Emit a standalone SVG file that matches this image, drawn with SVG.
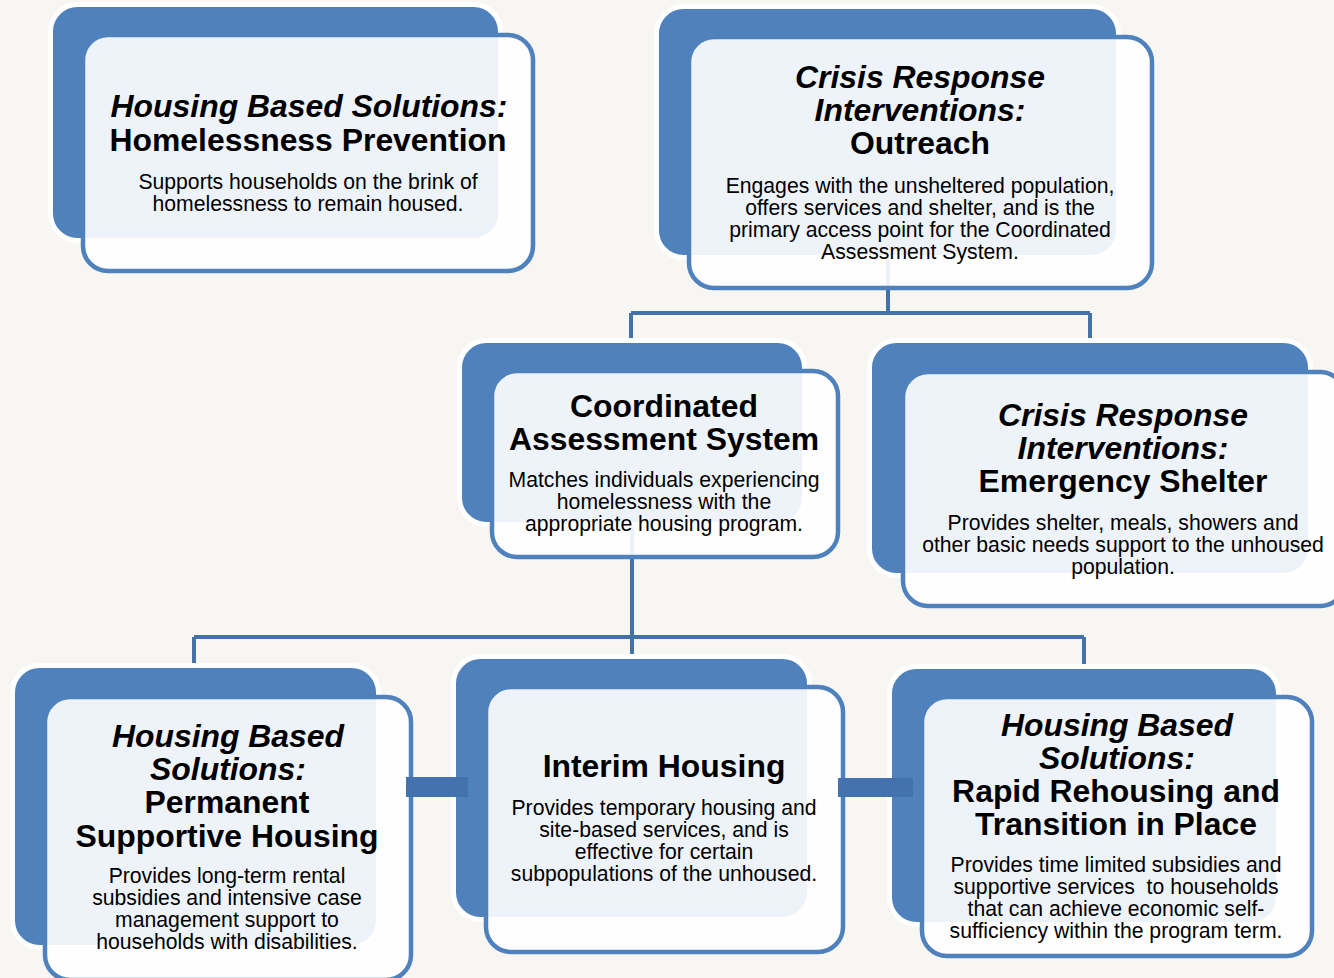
<svg xmlns="http://www.w3.org/2000/svg" width="1334" height="978" viewBox="0 0 1334 978">
<style>
.bg{fill:#f7f6f2}
.back{fill:#4f81bd;stroke:#fff;stroke-width:5}
.front{fill:#fff;fill-opacity:.9;stroke:#4f81bd;stroke-width:4.5}
.conn{fill:none;stroke:#4371a9;stroke-width:4}
.bar{fill:#4472ae}
text{font-family:"Liberation Sans",Arial,sans-serif;fill:#000;text-anchor:middle}
.t{font-size:31.9px;font-weight:bold}
.ti{font-size:31.9px;font-weight:bold;font-style:italic}
.b{font-size:21.2px}
</style>
<rect class="bg" x="0" y="0" width="1334" height="978"/>
<g id="connectors">
<path class="conn" d="M888 250 V313 M631 313 H1090 M631 313 V345 M1090 313 V345"/>
<path class="conn" d="M632 520 V662 M194 637 H1084 M194 637 V670 M1084 637 V670"/>
</g>
<g id="prevention">
<rect class="back" x="50.5" y="4.5" width="450" height="236" rx="27"/>
<rect class="front" x="83" y="35" width="450" height="236" rx="25"/>
<text class="ti" x="309" y="117">Housing Based Solutions:</text>
<text class="t" x="308" y="151">Homelessness Prevention</text>
<text class="b" x="308" y="189">Supports households on the brink of</text>
<text class="b" x="308" y="211">homelessness to remain housed.</text>
</g>
<g id="outreach">
<rect class="back" x="656.5" y="6.5" width="462" height="251" rx="27"/>
<rect class="front" x="689" y="37" width="463" height="251" rx="25"/>
<text class="ti" x="920" y="88">Crisis Response</text>
<text class="ti" x="920" y="121">Interventions:</text>
<text class="t" x="920" y="154">Outreach</text>
<text class="b" x="920" y="193">Engages with the unsheltered population,</text>
<text class="b" x="920" y="215">offers services and shelter, and is the</text>
<text class="b" x="920" y="237">primary access point for the Coordinated</text>
<text class="b" x="920" y="259">Assessment System.</text>
</g>
<g id="cas">
<rect class="back" x="459.5" y="340.5" width="345" height="184" rx="27"/>
<rect class="front" x="492" y="371" width="346" height="186" rx="25"/>
<text class="t" x="664" y="417">Coordinated</text>
<text class="t" x="664" y="450">Assessment System</text>
<text class="b" x="664" y="487">Matches individuals experiencing</text>
<text class="b" x="664" y="509">homelessness with the</text>
<text class="b" x="664" y="531">appropriate housing program.</text>
</g>
<g id="shelter">
<rect class="back" x="869.5" y="340.5" width="441" height="235" rx="27"/>
<rect class="front" x="903" y="372" width="442" height="234" rx="25"/>
<text class="ti" x="1123" y="426">Crisis Response</text>
<text class="ti" x="1123" y="459">Interventions:</text>
<text class="t" x="1123" y="492">Emergency Shelter</text>
<text class="b" x="1123" y="530">Provides shelter, meals, showers and</text>
<text class="b" x="1123" y="552">other basic needs support to the unhoused</text>
<text class="b" x="1123" y="574">population.</text>
</g>
<g id="psh">
<rect class="back" x="12.5" y="665.5" width="366" height="282" rx="27"/>
<rect class="front" x="45" y="697" width="366" height="283" rx="25"/>
<text class="ti" x="228" y="747">Housing Based</text>
<text class="ti" x="228" y="780">Solutions:</text>
<text class="t" x="227" y="813">Permanent</text>
<text class="t" x="227" y="847">Supportive Housing</text>
<text class="b" x="227" y="883">Provides long-term rental</text>
<text class="b" x="227" y="905">subsidies and intensive case</text>
<text class="b" x="227" y="927">management support to</text>
<text class="b" x="227" y="949">households with disabilities.</text>
</g>
<g id="interim">
<rect class="back" x="453.5" y="656.5" width="356" height="263" rx="27"/>
<rect class="front" x="486" y="687" width="357" height="265" rx="25"/>
<text class="t" x="664" y="777">Interim Housing</text>
<text class="b" x="664" y="815">Provides temporary housing and</text>
<text class="b" x="664" y="837">site-based services, and is</text>
<text class="b" x="664" y="859">effective for certain</text>
<text class="b" x="664" y="881">subpopulations of the unhoused.</text>
</g>
<g id="rrh">
<rect class="back" x="889.5" y="666.5" width="389" height="258" rx="27"/>
<rect class="front" x="922" y="697" width="390" height="259" rx="25"/>
<text class="ti" x="1117" y="736">Housing Based</text>
<text class="ti" x="1117" y="769">Solutions:</text>
<text class="t" x="1116" y="802">Rapid Rehousing and</text>
<text class="t" x="1116" y="835">Transition in Place</text>
<text class="b" x="1116" y="872">Provides time limited subsidies and</text>
<text class="b" x="1116" y="894" xml:space="preserve">supportive services  to households</text>
<text class="b" x="1116" y="916">that can achieve economic self-</text>
<text class="b" x="1116" y="938">sufficiency within the program term.</text>
</g>
<g id="connectors-bars">
<rect class="bar" x="406" y="777" width="62" height="20"/>
<rect class="bar" x="838" y="778" width="75" height="19"/>
</g>
</svg>
